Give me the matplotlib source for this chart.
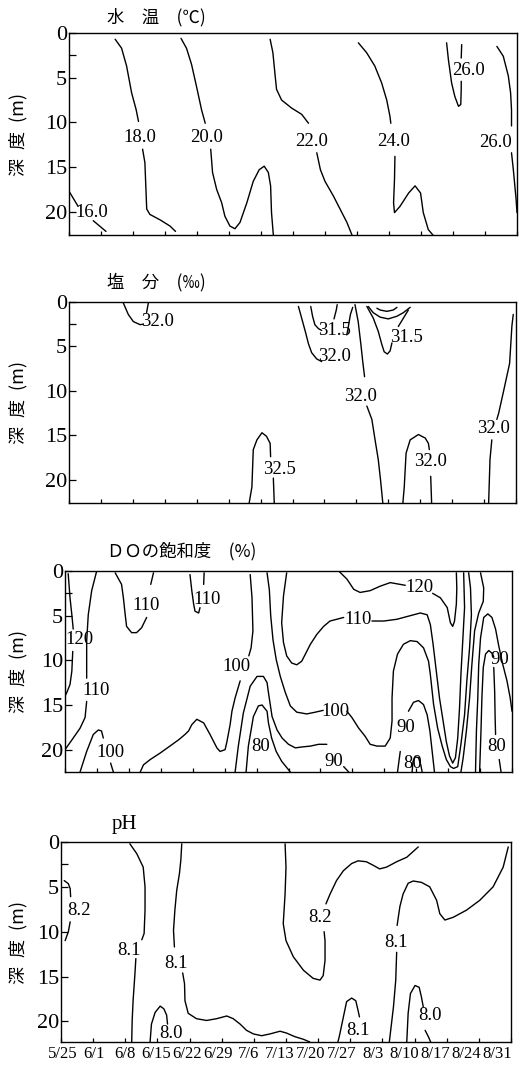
import matplotlib
matplotlib.use("Agg")
import matplotlib.pyplot as plt
from matplotlib.transforms import ScaledTranslation

# x axis: days after 5/25, one tick per week
week_days = [0, 7, 14, 21, 28, 35, 42, 49, 56, 63, 70, 77, 84, 91, 98]
week_labels = ["5/25", "6/1", "6/8", "6/15", "6/22", "6/29", "7/6", "7/13",
               "7/20", "7/27", "8/3", "8/10", "8/17", "8/24", "8/31"]
depth_ticks = [0, 5, 10, 15, 20]

# contour lines as (day, depth m); lines are split where the label sits
temp_segments = [
    [(0, 17.7), (2.0, 19.4)],
    [(5.3, 21.0), (8.1, 22.2)],
    [(10.1, 0.7), (11.5, 1.7), (12.6, 3.7), (13.7, 6.7), (14.7, 8.6), (15.2, 9.9)],
    [(16.1, 13.0), (16.6, 14.5), (16.8, 17.1), (17.0, 19.7), (17.7, 20.3), (19.9, 20.9),
     (22.1, 21.6), (23.3, 22.2)],
    [(24.5, 0.6), (25.7, 1.7), (26.8, 3.5), (27.9, 6.0), (29.0, 8.6), (29.8, 10.1)],
    [(31.0, 13.0), (31.4, 15.6), (32.3, 17.5), (33.4, 19.0), (34.1, 20.5), (35.2, 21.6),
     (36.3, 21.9), (37.4, 21.2), (38.9, 19.0), (40.3, 16.6), (41.6, 15.3), (42.7, 14.9),
     (43.6, 15.6), (44.1, 17.1), (44.3, 20.1), (44.7, 22.6)],
    [(44.0, 0.7), (44.6, 2.2), (45.1, 4.8), (45.4, 6.3), (46.5, 7.5), (48.7, 8.4),
     (50.9, 9.1), (52.4, 10.1)],
    [(54.2, 13.4), (55.0, 15.3), (56.0, 16.6), (57.8, 18.2), (59.3, 19.7), (60.8, 21.2),
     (61.9, 22.6)],
    [(63.3, 1.1), (65.1, 2.2), (66.9, 3.7), (68.4, 5.6), (69.5, 7.5), (70.2, 9.3), (70.4, 10.1)],
    [(71.3, 13.8), (71.2, 16.4), (71.0, 19.0), (71.2, 20.1), (72.4, 19.4), (74.3, 17.9),
     (75.7, 17.1), (76.9, 17.9), (77.5, 20.1), (78.6, 22.0), (79.6, 22.6)],
    [(82.6, 1.1), (83.0, 3.0), (83.7, 5.6), (84.4, 7.1), (85.2, 8.2), (85.7, 8.0),
     (85.8, 6.3), (85.8, 5.4)],
    [(85.8, 2.8), (85.9, 1.3)],
    [(93.6, 1.5), (95.0, 2.6), (96.1, 4.8), (96.6, 6.7), (96.8, 8.6), (96.8, 10.4)],
    [(96.8, 13.4), (97.2, 15.3), (97.8, 18.6), (98, 20.1)],
]
temp_labels = [("16.0", 5.0, 20.1), ("18.0", 15.5, 11.7), ("20.0", 30.2, 11.7),
               ("22.0", 53.1, 12.1), ("24.0", 71.0, 12.1), ("26.0", 87.3, 4.2),
               ("26.0", 93.2, 12.3)]

salt_segments = [
    [(11.9, 0.1), (13.0, 1.4), (14.1, 2.2), (15.6, 2.55), (16.2, 2.5)],
    [(17.0, 1.2), (17.4, 0.1)],
    [(50.3, 0.5), (51.0, 1.8), (51.8, 3.3), (52.5, 4.7), (53.2, 5.7), (54.3, 6.4), (55.4, 6.7)],
    [(60.9, 3.7), (61.2, 2.9), (61.7, 1.4), (62.2, 0.6)],
    [(53.0, 0.5), (53.4, 1.6), (53.9, 2.55), (54.7, 3.0), (55.4, 3.2)],
    [(58.1, 1.9), (58.6, 0.9), (58.8, 0.3)],
    [(62.7, 0.3), (63.4, 2.2), (64.0, 4.8), (64.4, 6.7), (64.8, 8.4)],
    [(65.3, 11.7), (66.4, 13.2), (67.1, 15.5), (67.8, 17.7), (68.3, 20.0), (68.8, 22.6)],
    [(67.5, 0.7), (68.2, 0.9), (69.7, 1.05), (71.1, 0.9), (71.9, 0.6)],
    [(65.6, 0.5), (66.7, 1.2), (68.2, 1.7), (70.0, 1.9), (71.9, 1.6), (73.3, 1.2), (74.8, 0.6)],
    [(65.3, 0.5), (66.7, 1.8), (67.8, 3.3), (68.6, 4.8), (69.1, 5.6), (69.8, 5.85),
     (70.4, 5.5), (70.8, 4.6)],
    [(72.2, 2.75), (74.4, 0.9)],
    [(39.5, 22.6), (40.1, 20.8), (40.4, 16.6), (41.2, 15.5), (42.3, 14.7), (43.3, 15.1),
     (44.1, 15.9), (44.2, 17.4)],
    [(44.8, 19.8), (45.0, 22.6)],
    [(73.2, 22.6), (73.5, 20.8), (73.9, 17.0), (74.8, 15.5), (76.6, 14.9), (78.1, 15.3),
     (78.8, 15.9), (79.0, 16.6)],
    [(79.3, 19.6), (79.5, 22.6)],
    [(97.4, 1.4), (97.1, 2.7), (96.6, 6.9), (95.2, 10.2), (94.2, 12.5), (93.8, 13.2)],
    [(92.7, 15.5), (92.3, 17.7), (92.0, 22.6)],
]
salt_labels = [("32.0", 19.4, 2.2), ("31.5", 58.1, 3.2), ("32.0", 58.3, 6.1),
               ("31.5", 74.0, 4.0), ("32.0", 64.0, 10.6), ("32.5", 46.1, 18.8),
               ("32.0", 79.3, 17.9), ("32.0", 93.1, 14.2)]

do_segments = [
    [(0.7, 0.3), (1.1, 3.0), (1.5, 4.9), (1.8, 6.5)],
    [(1.7, 9.0), (1.5, 11.2), (1.1, 12.7), (0.4, 13.6), (0, 14.0)],
    [(6.95, 0), (5.85, 2.2), (5.1, 4.9), (4.75, 7.85), (4.75, 10.5), (4.75, 12.0)],
    [(4.75, 14.6), (4.4, 16.4), (3.3, 17.6), (1.8, 18.7), (0, 20.0)],
    [(3.3, 22.5), (4.75, 20.2), (6.2, 18.3), (7.3, 17.8), (8.0, 17.9), (8.4, 18.7)],
    [(10.0, 21.5), (10.6, 22.5)],
    [(11.0, 0.2), (12.4, 1.5), (12.8, 3.0), (13.2, 4.9), (13.5, 6.2), (14.6, 6.9),
     (15.7, 6.9), (16.8, 6.35), (17.9, 5.2)],
    [(18.8, 1.5), (19.4, 0.2)],
    [(27.4, 0.4), (27.8, 2.2), (28.2, 3.7), (28.5, 4.5), (29.3, 4.7), (29.6, 4.1)],
    [(30.4, 1.5), (30.5, 0.2)],
    [(40.6, 0.4), (41.0, 3.0), (41.2, 6.7), (40.8, 8.6), (40.3, 9.5)],
    [(38.4, 12.3), (37.3, 14.2), (36.6, 15.7), (36.2, 17.2), (35.5, 19.1), (35.1, 20.0),
     (34.0, 20.2), (33.3, 19.8), (31.8, 18.3), (30.4, 17.0), (28.9, 16.6), (27.8, 17.2),
     (27.1, 17.9), (26.3, 18.3), (24.9, 18.9), (23.0, 19.6), (20.8, 20.4), (18.7, 21.1),
     (17.2, 21.7), (16.5, 22.5)],
    [(37.3, 22.5), (38.0, 19.6), (39.1, 15.9), (40.6, 12.9), (42.1, 11.8), (43.5, 11.8),
     (44.3, 12.5), (44.6, 13.6), (45.4, 16.3), (46.5, 17.8), (47.6, 18.7), (49.0, 19.4),
     (50.5, 19.8), (51.9, 19.7), (53.8, 19.6), (55.6, 19.4), (57.4, 19.4)],
    [(61.1, 21.9), (62.2, 22.5)],
    [(39.7, 22.5), (40.2, 19.6), (41.3, 16.3), (42.4, 15.1), (43.2, 15.0), (44.3, 15.7),
     (44.6, 17.0), (45.3, 18.7), (46.3, 20.2), (47.5, 21.3), (49.4, 22.5)],
    [(44.3, 0.2), (44.8, 2.1), (45.1, 5.0), (45.6, 7.7), (46.3, 9.9), (47.2, 11.8),
     (48.3, 13.6), (49.4, 15.1), (50.8, 15.8), (53.0, 16.0), (54.9, 15.8), (56.6, 15.6)],
    [(61.8, 15.7), (62.9, 16.4), (64.4, 17.6), (65.8, 18.5), (66.9, 19.4), (68.4, 19.6),
     (70.2, 19.6), (71.3, 18.7), (71.7, 16.8), (71.7, 14.2), (72.0, 11.2), (72.9, 9.3),
     (74.2, 8.2), (75.7, 7.8), (77.2, 7.9), (78.6, 8.6), (79.7, 10.1), (80.1, 11.6),
     (80.8, 14.9), (81.7, 17.6), (82.7, 19.6), (83.6, 21.1), (84.5, 21.9), (85.2, 22.1),
     (86.1, 21.9), (86.8, 19.4), (87.6, 16.1), (88.1, 12.3), (88.7, 8.6), (89.1, 4.9),
     (88.9, 1.9), (88.5, 0.2)],
    [(48.6, 0.2), (47.9, 2.8), (47.5, 5.8), (47.9, 8.0), (48.6, 9.5), (49.7, 10.3),
     (50.8, 10.5), (51.9, 10.1), (53.0, 9.0), (53.8, 8.2), (55.2, 7.1), (56.7, 6.2),
     (58.1, 5.6), (61.1, 5.2)],
    [(67.3, 5.6), (69.9, 5.6), (72.8, 5.4), (75.7, 5.0), (77.9, 4.7), (79.4, 4.9),
     (80.1, 6.0), (80.7, 8.2), (81.4, 11.2), (82.1, 14.2), (82.9, 16.8), (83.6, 19.1),
     (84.3, 20.7), (85.0, 21.5), (85.6, 20.9), (86.1, 18.7), (86.5, 15.3), (86.8, 11.6),
     (87.2, 7.85), (87.6, 4.1), (87.4, 0.2)],
    [(60.0, 0.0), (61.8, 0.9), (63.3, 2.05), (64.7, 2.4), (66.9, 2.2), (69.1, 1.7),
     (71.3, 1.3), (73.5, 1.5), (74.6, 1.6)],
    [(80.6, 2.5), (82.3, 3.0), (83.8, 4.1), (84.5, 5.8), (85.0, 6.2), (85.4, 5.6),
     (85.8, 3.7), (85.9, 1.9), (85.8, 0.2)],
    [(72.9, 22.5), (73.5, 20.2)],
    [(75.3, 15.7), (76.4, 14.7), (77.5, 14.5), (78.6, 14.95), (79.4, 16.1), (80.0, 17.9),
     (80.5, 20.2), (81.0, 22.5)],
    [(76.1, 22.5), (76.3, 21.3), (76.8, 20.8), (77.5, 20.9), (78.0, 21.7), (78.3, 22.5)],
    [(91.1, 0.2), (91.8, 1.9), (91.7, 3.4), (90.7, 4.7), (89.8, 6.7), (89.2, 10.5),
     (88.7, 14.2), (88.0, 17.9), (87.3, 20.9), (86.8, 22.5)],
    [(90.0, 22.5), (90.2, 17.9), (90.5, 14.2), (90.7, 10.5), (91.1, 7.5), (91.8, 5.2),
     (92.7, 4.8), (93.6, 5.2), (94.4, 6.5), (95.1, 8.4), (96.0, 10.5), (96.9, 12.3),
     (97.6, 14.2), (98.0, 15.7)],
    [(90.9, 22.5), (91.2, 17.9), (91.4, 14.2), (91.7, 10.8), (92.2, 9.3), (92.9, 8.9),
     (93.6, 9.2), (94.0, 9.6)],
    [(94.0, 10.8), (94.2, 13.5), (94.3, 16.4), (94.4, 18.3)],
    [(95.2, 21.1), (95.6, 22.5)],
]
do_labels = [("120", 3.1, 7.7), ("110", 6.8, 13.4), ("100", 9.9, 20.3), ("110", 17.8, 3.9),
             ("110", 31.2, 3.2), ("100", 37.7, 10.7), ("80", 42.8, 19.6), ("90", 58.9, 21.3),
             ("100", 59.3, 15.7), ("110", 64.2, 5.4), ("120", 77.7, 1.9), ("90", 74.6, 17.5),
             ("80", 76.2, 21.5), ("90", 95.4, 9.9), ("80", 94.6, 19.7)]

ph_segments = [
    [(0.7, 4.3), (1.6, 4.65), (2.0, 5.2), (2.1, 6.1)],
    [(2.0, 8.9), (1.6, 10.0), (0.9, 11.0)],
    [(15.0, 0.2), (16.5, 1.3), (17.9, 2.8), (18.3, 5.0), (18.3, 7.6), (18.1, 10.2), (17.6, 10.9)],
    [(16.3, 13.0), (16.1, 14.7), (15.7, 17.7), (15.5, 19.9), (15.4, 22.3)],
    [(26.3, 0.2), (26.1, 2.0), (25.8, 3.5), (25.2, 5.4), (24.8, 7.6), (24.5, 9.85), (24.7, 11.7)],
    [(26.5, 14.6), (26.9, 15.8), (27.0, 17.7), (27.7, 19.1), (29.5, 19.7), (31.7, 19.9),
     (33.9, 19.7), (36.1, 19.4), (37.5, 19.7), (39.0, 20.3), (40.4, 21.0), (41.9, 21.4),
     (43.7, 21.6), (45.5, 21.4), (47.7, 21.1), (49.1, 21.3), (50.9, 21.7), (52.8, 22.0),
     (54.2, 22.3)],
    [(19.4, 22.3), (19.7, 20.3), (20.5, 19.0), (21.6, 18.3), (22.4, 18.6), (23.0, 19.3),
     (23.2, 20.3)],
    [(48.8, 0.2), (49.0, 2.8), (48.8, 5.8), (48.4, 9.1), (49.0, 11.0), (50.6, 12.8),
     (52.8, 14.3), (54.9, 15.2), (56.4, 15.4), (57.1, 14.9), (57.5, 13.2), (57.5, 11.0),
     (57.3, 10.0)],
    [(57.7, 6.9), (58.6, 5.8), (60.0, 4.3), (61.5, 3.2), (63.3, 2.4), (64.7, 2.1),
     (66.5, 2.2), (68.0, 2.6), (69.4, 3.0), (70.9, 2.8), (73.1, 2.2), (75.3, 1.7), (77.8, 0.55)],
    [(71.5, 22.3), (72.4, 18.4), (72.9, 15.4), (73.1, 12.3)],
    [(73.2, 9.3), (73.8, 7.2), (74.5, 5.8), (75.6, 4.6), (76.7, 4.35), (78.5, 4.5),
     (80.3, 5.0), (81.8, 6.5), (82.5, 8.0), (83.6, 8.7), (85.4, 8.4), (88.3, 7.6),
     (91.2, 6.5), (94.1, 5.0), (96.3, 2.8), (97.4, 0.55)],
    [(60.3, 22.3), (60.6, 21.7), (61.5, 19.5), (62.2, 17.8), (63.3, 17.4), (64.2, 17.7),
     (64.7, 18.8), (65.0, 19.5)],
    [(75.3, 22.3), (75.6, 19.1), (76.1, 16.9), (77.1, 16.0), (78.0, 16.2), (78.5, 17.3),
     (78.9, 18.4)],
    [(79.3, 21.0), (80.0, 21.7), (80.5, 22.3)],
]
ph_labels = [("8.2", 3.9, 7.6), ("8.1", 14.9, 12.1), ("8.1", 25.0, 13.6), ("8.0", 23.9, 21.3),
             ("8.2", 56.5, 8.4), ("8.1", 72.9, 11.2), ("8.1", 64.7, 21.0), ("8.0", 80.3, 19.3)]

titles = ["水　温　(℃)", "塩　分　(‰)", "ＤＯの飽和度　(%)", "pH"]

# layout in pixels of the 522x1070 image: left, right, top, bottom, depth at bottom edge
W, H = 522, 1070
boxes = [(69, 517, 33, 235, 22.6), (69, 516, 302, 503, 22.6),
         (65, 512, 571, 772, 22.5), (61, 511, 842, 1042, 22.3)]
title_pos = [(107, 17), (107, 282), (107, 551), (112, 824)]

serif = "Liberation Serif"
cjk = ["Noto Sans CJK JP", "DejaVu Sans"]

fig = plt.figure(figsize=(W / 100, H / 100), dpi=100)
panels = [(temp_segments, temp_labels), (salt_segments, salt_labels),
          (do_segments, do_labels), (ph_segments, ph_labels)]

for i, ((segs, labs), box) in enumerate(zip(panels, boxes)):
    left, right, top, bottom, dmax = box
    ax = fig.add_axes([left / W, 1 - bottom / H, (right - left) / W, (bottom - top) / H])
    for seg in segs:
        xs = [p[0] for p in seg]
        ys = [p[1] for p in seg]
        ax.plot(xs, ys, color="black", lw=1.0, solid_capstyle="round")
    for txt, x, y in labs:
        ax.text(x, y, txt, ha="center", va="center", fontsize=13.5, family=serif)
    ax.set_xlim(0, 98)
    ax.set_ylim(dmax, 0)
    ax.set_yticks(depth_ticks)
    ax.set_yticks([2.5], minor=True)
    ax.set_xticks(week_days)
    ax.tick_params(axis="y", which="both", direction="in", length=5, width=0.9, pad=1.5,
                   labelsize=16)
    ax.tick_params(axis="x", direction="in", length=3, width=0.9, pad=3)
    for lab in ax.get_yticklabels():
        lab.set_family(serif)
    for sp in ax.spines.values():
        sp.set_linewidth(1.0)
    if i == 3:
        ax.set_xticklabels(week_labels, fontsize=12, family=serif)
        for k, lab in enumerate(ax.get_xticklabels()):
            dx = (2 - 16 * k / 14) / 100
            lab.set_transform(lab.get_transform() + ScaledTranslation(dx, 0, fig.dpi_scale_trans))
    else:
        ax.set_xticklabels([])
    # vertical axis title
    fig.text(18 / W, 1 - (top + bottom) / 2 / H, "深\u2002度\u2002(m)", rotation=90,
             ha="center", va="center", fontsize=13, family=cjk)
    tx, ty = title_pos[i]
    if i == 3:
        fig.text(tx / W, 1 - ty / H, titles[i], ha="left", va="center", fontsize=15, family=serif)
    else:
        fig.text(tx / W, 1 - ty / H, titles[i], ha="left", va="center", fontsize=12.5, family=cjk)

fig.savefig("out.png", dpi=100)
